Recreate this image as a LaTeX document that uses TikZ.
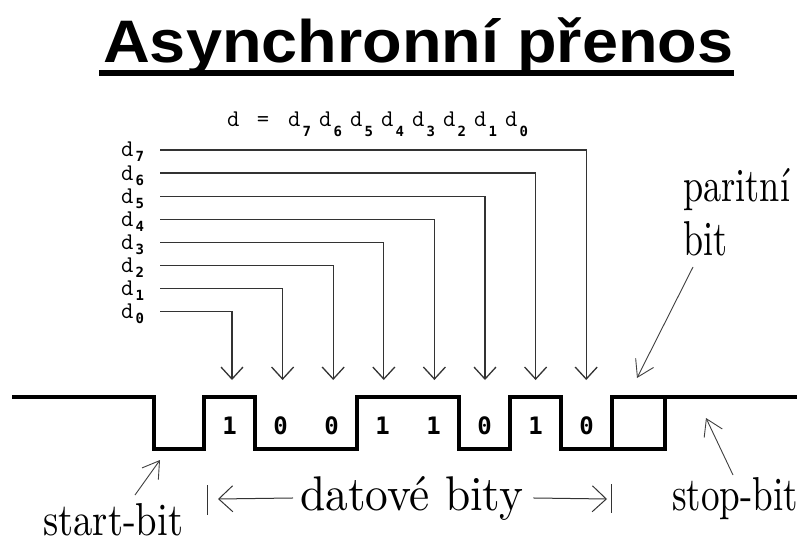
\documentclass[tikz,border=0pt]{standalone}
\usepackage{fontspec}
\usetikzlibrary{arrows.meta}
\newfontfamily\titlefont{Liberation Sans}
\newfontfamily\digitfont{DejaVu Sans Mono}
\newcommand\dsub[2]{d\hspace{2pt}\raisebox{-#2}{\fontsize{14}{14}\selectfont\digitfont\bfseries #1}}
\newcommand\biglab[3]{\resizebox{#1}{#2}{\addfontfeatures{FakeBold=0.6}#3}}
\begin{document}
\begin{tikzpicture}[x=1pt,y=-1pt,
  wave/.style={line width=3.2pt, line join=miter},
  conn/.style={draw=black!80, line width=1.3pt, -{Straight Barb[length=12pt,width=22pt,line width=1.3pt]}},
  thinarr/.style={draw=black!75, line width=0.9pt, -{Straight Barb[length=16pt,width=20pt,line width=0.9pt]}},
  barr/.style={draw=black!80, line width=1pt, -{Straight Barb[length=14pt,width=26pt,line width=1pt]}},
  bar/.style={draw=black!80, line width=1pt},
  lab/.style={anchor=base west, inner sep=0pt},
  dlab/.style={anchor=base west, inner sep=0pt, font=\fontsize{24}{24}\selectfont\ttfamily\addfontfeatures{FakeBold=2.5}},
  bitd/.style={inner sep=0pt, font=\fontsize{24}{24}\selectfont\digitfont\bfseries}]
\useasboundingbox[fill=white] (0,0) rectangle (800,545);

% title
\node[anchor=base west, inner sep=0pt] (title) at (103,63)
  {\scalebox{1.08}[1]{\fontsize{60}{60}\selectfont\titlefont\bfseries Asynchronní přenos}};
\draw[line width=6pt] (99,73.5) -- (734,73.5);

% formula
\node[dlab] (fd) at (227,127) {d};
\node[dlab, anchor=base] (feq) at (263,127) {=};
\foreach \i in {0,...,7} {
  \node[dlab] (f\i) at ({288+31*(7-\i)},127) {\dsub{\i}{10pt}};
}

% bit labels and connectors
\foreach \i in {0,...,7} {
  \pgfmathsetmacro\ly{150+23.1*(7-\i)}
  \pgfmathsetmacro\ax{232+50.6*\i}
  \node[dlab] (L\i) at (121,\ly+7) {\dsub{\i}{5pt}};
  \coordinate (s\i) at (160,\ly);
  \coordinate (t\i) at (\ax,380);
  \draw[conn] (s\i) -| (t\i);
}

% waveform
\draw[wave] (12,397) -- (154,397) |- (204,449) |- (255,397) |- (357,449)
  |- (459,397) |- (510,449) |- (561,397) |- (612,449) |- (797,397);
\draw[wave] (612,449) -- (665,449) -- (665,397);

% bit values
\foreach \b [count=\k from 0] in {1,0,0,1,1,0,1,0} {
  \node[bitd] (bit\k) at ({229.5+51*\k},426) {\b};
}

% labels
\node[lab] (start) at (43,535) {\biglab{140pt}{32pt}{start-bit}};
\node[lab] (dat) at (300,510) {\biglab{223pt}{34pt}{datové bity}};
\node[lab] (stop) at (672,510) {\biglab{126pt}{33pt}{stop-bit}};
\node[lab] (parA) at (683,202) {\biglab{107pt}{33pt}{paritní}};
\node[lab] (parB) at (683,255) {\biglab{44pt}{34pt}{bit}};

% label arrows
\coordinate (startTail) at (135,495);
\coordinate (startTip) at (160,460);
\draw[thinarr] (startTail) -- (startTip);
\coordinate (stopTail) at (733,475);
\coordinate (stopTip) at (706,418);
\draw[thinarr] (stopTail) -- (stopTip);
\coordinate (parTail) at (693,267);
\coordinate (parTip) at (637,378);
\draw[thinarr] (parTail) -- (parTip);

\coordinate (ltip) at (218,499);
\coordinate (rtip) at (607,499);
\draw[barr] ([xshift=-7pt]dat.west) -- (ltip);
\draw[barr] ([xshift=10pt]dat.east) -- (rtip);
\coordinate (lb1) at (207,485); \coordinate (lb2) at (207,515);
\coordinate (rb1) at (611,484); \coordinate (rb2) at (611,513);
\draw[bar] (lb1) -- (lb2);
\draw[bar] (rb1) -- (rb2);
\end{tikzpicture}
\end{document}
